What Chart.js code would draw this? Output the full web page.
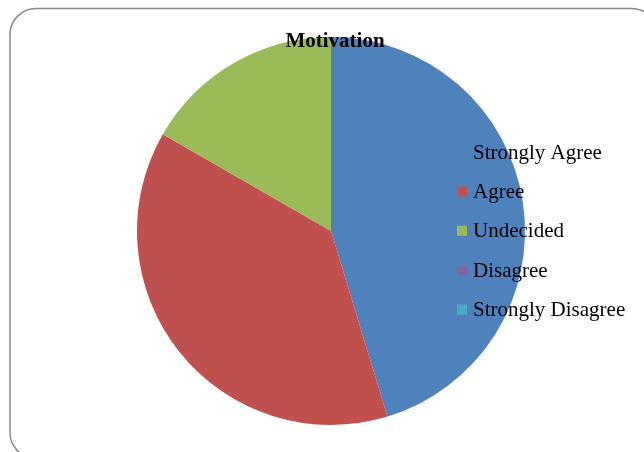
<!DOCTYPE html>
<html>
<head>
<meta charset="utf-8">
<script src="https://cdn.jsdelivr.net/npm/chart.js@4/dist/chart.umd.min.js"></script>
<style>
  html, body { margin: 0; padding: 0; background: #fff; overflow: hidden; }
  canvas { display: block; }
</style>
</head>
<body>
<canvas id="chart" width="644" height="452"></canvas>
<script>
// Data (share of responses, %)
const chartTitle = 'Motivation';
const categories = ['Strongly Agree', 'Agree', 'Undecided', 'Disagree', 'Strongly Disagree'];
const responses = [45.3, 38.0, 16.7, 0, 0];
const sliceColors = ['#4F81BD', '#C0504D', '#9BBB59', '#8064A2', '#4BACC6'];

// Frame, title and legend laid over the pie like the office chart
const overlayPlugin = {
    id: 'overlay',
    beforeDraw(chart) {
        const ctx = chart.ctx;
        ctx.save();
        ctx.fillStyle = '#fff';
        ctx.fillRect(0, 0, chart.width, chart.height);
        ctx.strokeStyle = '#8a8a8a';
        ctx.lineWidth = 1.5;
        ctx.beginPath();
        ctx.roundRect(10, 8.5, 648, 450, 26);
        ctx.stroke();
        ctx.restore();
    },
    afterDatasetsDraw(chart) {
        const ctx = chart.ctx;
        ctx.save();
        categories.forEach((c, i) => {
            ctx.fillStyle = sliceColors[i];
            ctx.fillRect(457, 147 + i * 39.4, 10, 10);
        });
        ctx.fillStyle = '#000';
        ctx.textBaseline = 'middle';
        ctx.textAlign = 'left';
        ctx.font = '21px "Liberation Serif", "Times New Roman", serif';
        categories.forEach((c, i) => {
            ctx.fillText(c, 473, 153 + i * 39.4);
        });
        ctx.textAlign = 'center';
        ctx.font = 'bold 21px "Liberation Serif", "Times New Roman", serif';
        ctx.fillText(chartTitle, 335, 42);
        ctx.restore();
    }
};

new Chart(document.getElementById('chart'), {
    type: 'pie',
    data: {
        labels: categories,
        datasets: [{
            data: responses,
            backgroundColor: sliceColors,
            borderWidth: 0
        }]
    },
    options: {
        responsive: false,
        animation: false,
        layout: {
            padding: { top: 37, bottom: 27, left: 137, right: 119 }
        },
        plugins: {
            legend: { display: false },
            title: { display: false },
            tooltip: { enabled: false }
        }
    },
    plugins: [overlayPlugin]
});
</script>
</body>
</html>
